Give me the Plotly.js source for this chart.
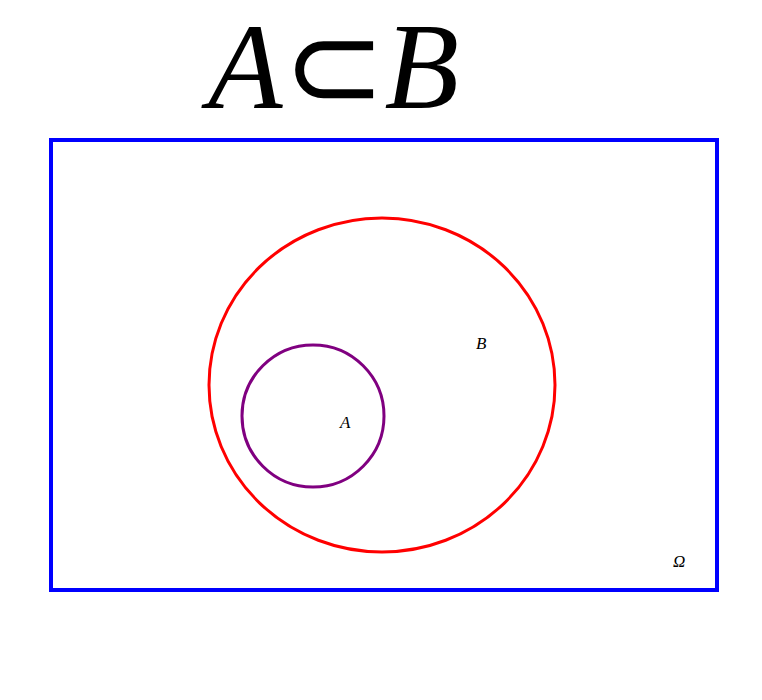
<!DOCTYPE html>
<html><head><meta charset="utf-8">
<script src="https://cdn.plot.ly/plotly-3.0.1.min.js"></script>
<style>body{margin:0;background:#fff}</style>
</head><body>
<div id="chart" style="width:762px;height:700px"></div>
<script>
// Venn diagram: universe box and two sets (pixel-like units, y downward)
const universe = [51, 140, 717, 590];           // x0, y0, x1, y1
const setNames = ['B', 'A'];
const setCenters = [[382, 385], [313, 416]];
const setRadii = [[173, 167], [71, 71]];
const setColors = ['#ff0000', '#800080'];
const labelNames = ['<i>B</i>', '<i>A</i>', '<i>Ω</i>'];
const labelPos = [[481, 343], [345, 422], [679, 561]];

const shapes = [{
  type: 'rect', xref: 'x', yref: 'y',
  x0: universe[0], y0: universe[1], x1: universe[2], y1: universe[3],
  line: { color: '#0000ff', width: 4 }
}];
setNames.forEach((n, i) => {
  const [cx, cy] = setCenters[i], [rx, ry] = setRadii[i];
  shapes.push({
    type: 'circle', xref: 'x', yref: 'y',
    x0: cx - rx, x1: cx + rx, y0: cy - ry, y1: cy + ry,
    line: { color: setColors[i], width: 3 }
  });
});

const annotations = labelNames.map((t, i) => ({
  x: labelPos[i][0], y: labelPos[i][1], xref: 'x', yref: 'y',
  text: t, showarrow: false,
  font: { family: 'Liberation Serif', size: 17, color: '#000' }
}));
annotations.push({
  x: 330, y: 66, xref: 'x', yref: 'y', text: '<i>A</i>⊂<i>B</i>', showarrow: false,
  font: { family: 'Liberation Serif', size: 122, color: '#000' }
});

Plotly.newPlot('chart', [], {
  width: 762, height: 700,
  margin: { l: 0, r: 0, t: 0, b: 0 },
  paper_bgcolor: '#fff', plot_bgcolor: '#fff',
  xaxis: { range: [0, 762], visible: false, fixedrange: true },
  yaxis: { range: [700, 0], visible: false, fixedrange: true },
  shapes: shapes, annotations: annotations, showlegend: false
}, { displayModeBar: false, staticPlot: true });
</script>
</body></html>
